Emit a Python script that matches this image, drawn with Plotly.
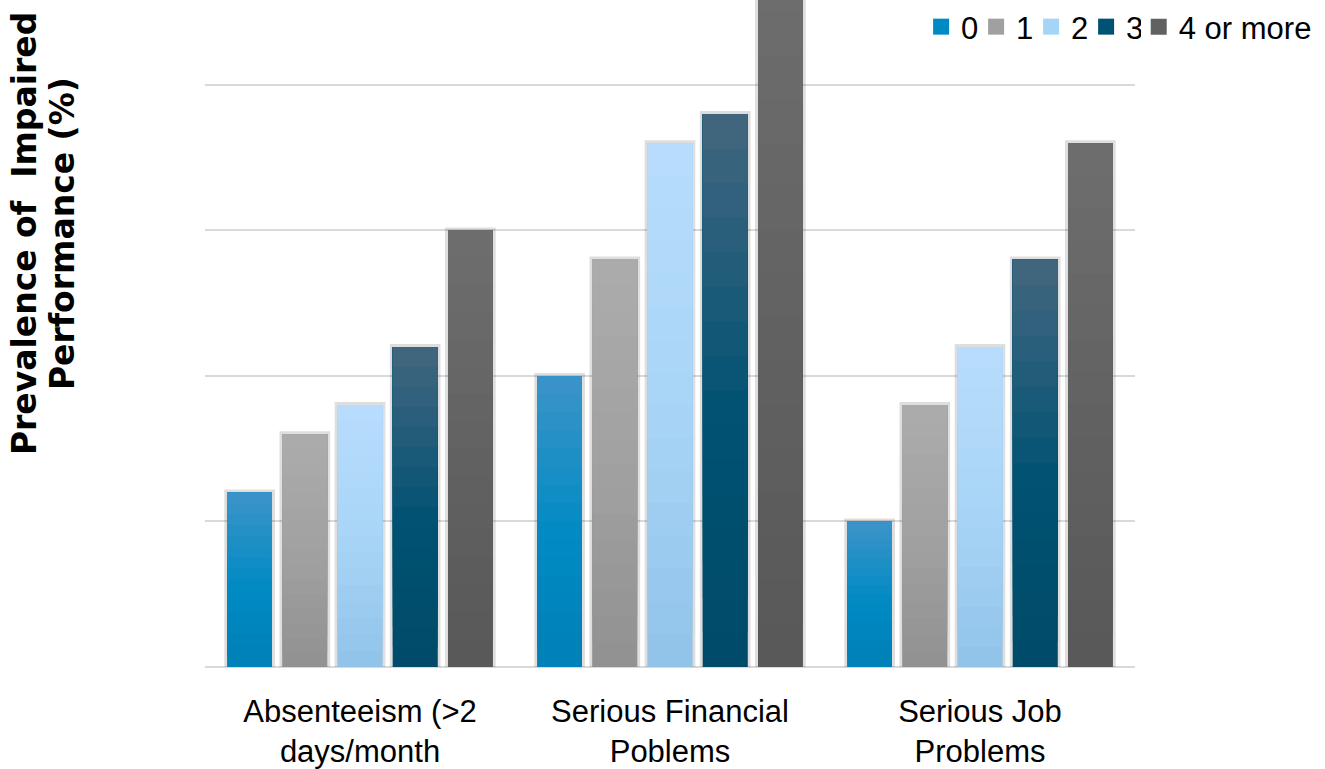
import plotly.graph_objects as go

# Outcome categories (x axis) and number-of-risk-factor groups (series)
categories = ["Absenteeism (>2<br>days/month", "Serious Financial<br>Poblems", "Serious Job<br>Problems"]
series_names = ["0", "1", "2", "3", "4 or more"]

# Prevalence of impaired performance (%) for each group
values_0 = [6, 10, 5]
values_1 = [8, 14, 9]
values_2 = [9, 18, 11]
values_3 = [11, 19, 14]
values_4_or_more = [15, 24, 18]

series_values = [values_0, values_1, values_2, values_3, values_4_or_more]

# Gradient colour stops per series: bottom, middle, top
gradients = [
    ("#0080b6", "#008ac3", "#3e94c8"),
    ("#919191", "#a0a0a0", "#acacac"),
    ("#91c2e8", "#a6d4f6", "#b8dcfd"),
    ("#004a69", "#005273", "#44677f"),
    ("#585858", "#616161", "#6e6e6e"),
]

N_SEG = 16
MID_STOP = 0.45
FONT = "Liberation Sans, Arial, sans-serif"


def hex_to_rgb(h):
    h = h.lstrip("#")
    return tuple(int(h[i:i + 2], 16) for i in (0, 2, 4))


def blend(c1, c2, t):
    a, b = hex_to_rgb(c1), hex_to_rgb(c2)
    return "rgb({},{},{})".format(*[round(a[i] + (b[i] - a[i]) * t) for i in range(3)])


def grad_color(stops, t):
    bottom, mid, top = stops
    if t <= MID_STOP:
        return blend(bottom, mid, t / MID_STOP)
    return blend(mid, top, (t - MID_STOP) / (1 - MID_STOP))


fig = go.Figure()

for idx, (name, vals, stops) in enumerate(zip(series_names, series_values, gradients)):
    grp = str(idx)
    # full bar underneath carries a soft shadow outline
    fig.add_trace(go.Bar(
        x=categories, y=vals, offsetgroup=grp, legendgroup=grp, showlegend=False,
        marker=dict(color=stops[1], line=dict(color="rgba(0,0,0,0.13)", width=6)),
        hoverinfo="skip",
    ))
    # vertical colour gradient: each slice runs from its base to the bar top,
    # later (higher) slices painted over the earlier ones
    for k in range(N_SEG):
        t = (k + 0.5) / N_SEG
        fig.add_trace(go.Bar(
            x=categories,
            y=[v * (1 - k / N_SEG) for v in vals],
            base=[v * k / N_SEG for v in vals],
            offsetgroup=grp, legendgroup=grp,
            name=name,
            showlegend=False,
            marker=dict(color=grad_color(stops, t), line=dict(width=0)),
            hoverinfo="skip",
        ))
    # legend swatch (the long last label sits in its own legend box)
    fig.add_trace(go.Scatter(
        x=[None], y=[None], name=name, legendgroup=grp, mode="markers",
        marker=dict(color=stops[1], symbol="square", size=16),
        showlegend=True,
        legend="legend2" if idx == len(series_names) - 1 else "legend",
    ))

legend_common = dict(
    orientation="h", xanchor="left", y=1.0, yanchor="top",
    font=dict(size=31), traceorder="normal", itemwidth=30,
    bgcolor="rgba(255,255,255,0)",
)

fig.update_layout(
    width=1325, height=769,
    margin=dict(l=205, r=190, t=0, b=102, autoexpand=False),
    paper_bgcolor="white", plot_bgcolor="white",
    barmode="group", bargap=0.11, bargroupgap=0.19,
    font=dict(family=FONT, color="black", size=31),
    legend=dict(x=0.77, entrywidth=10, entrywidthmode="pixels", **legend_common),
    legend2=dict(x=1.004, **legend_common),
    showlegend=True,
)

fig.update_xaxes(
    showgrid=False, showline=False, ticks="", tickfont=dict(size=31),
    ticklabelstandoff=23,
)
fig.update_yaxes(
    range=[0, 22.92], dtick=5, showticklabels=False, ticks="",
    showgrid=True, gridcolor="#d9d9d9", gridwidth=2,
    zeroline=True, zerolinecolor="#d9d9d9", zerolinewidth=2,
)

# two-line rotated axis title, one annotation per line for tighter spacing
title_lines = ["Prevalence of\u00a0 Impaired", "Performance (%)"]
title_x_px = [24, 62]
for line, xp in zip(title_lines, title_x_px):
    fig.add_annotation(
        text="<b>" + line + "</b>",
        xref="paper", yref="paper", x=(xp - 205) / 930, y=0.649,
        xanchor="center", yanchor="middle", textangle=-90, showarrow=False,
        font=dict(size=33, color="black", family="DejaVu Sans"),
    )

fig.write_html("out.html")
